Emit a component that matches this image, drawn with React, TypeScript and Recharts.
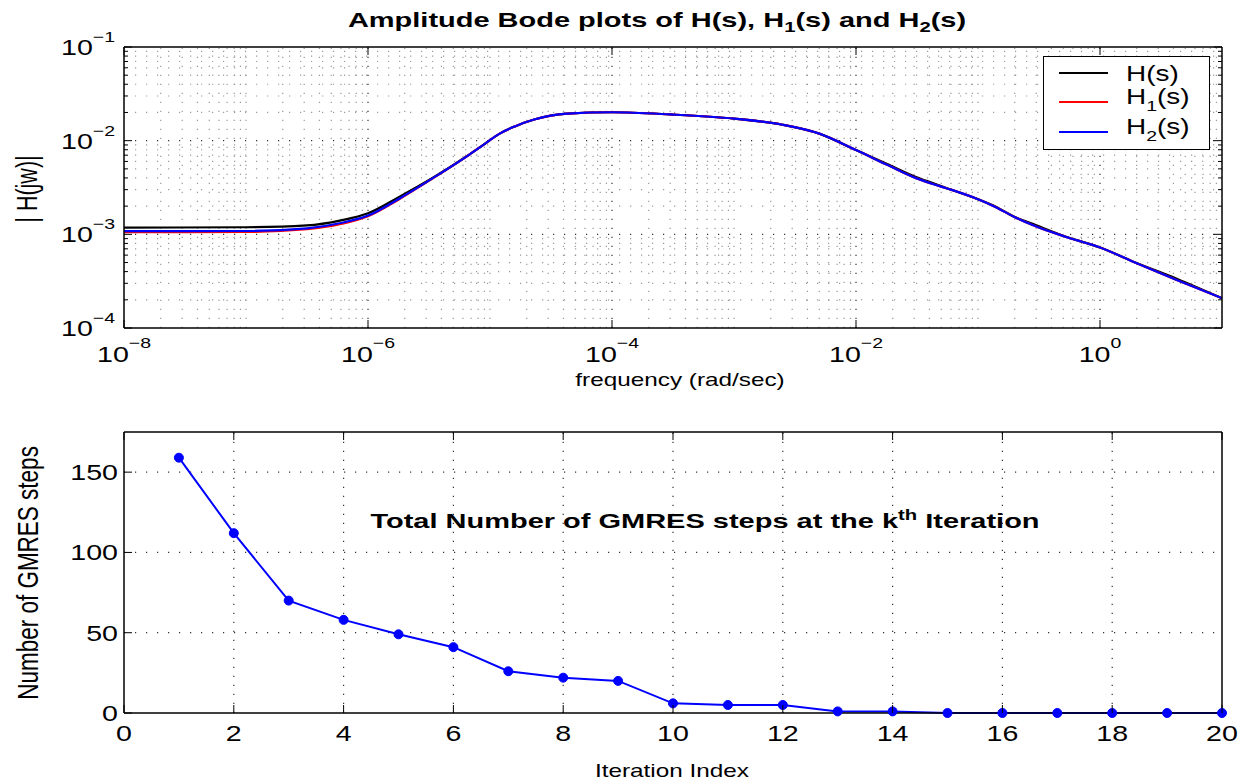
import React from 'react';
import { Legend, Line, LineChart, ReferenceLine, XAxis, YAxis } from 'recharts';

// --- Bode magnitude ---
const freq = [
  1e-8, 1e-7, 3.16e-7, 6e-7, 1e-6, 1.8e-6, 3.4e-6, 6.5e-6, 9e-6, 1.2e-5, 1.6e-5, 2.3e-5, 4.3e-5, 1e-4, 3e-4, 1e-3,
  2.5e-3, 5e-3, 1e-2, 1.8e-2, 3.1e-2, 4.2e-2, 5.5e-2, 1e-1, 1.4e-1, 1.95e-1, 3e-1, 5.2e-1, 1, 2, 4.25, 10,
];
const magH = [
  1.18e-3, 1.19e-3, 1.245e-3, 1.41e-3, 1.68e-3, 2.51e-3, 4.02e-3, 6.86e-3, 9.2e-3, 1.19e-2, 1.42e-2, 1.68e-2, 1.94e-2, 2.01e-2, 1.905e-2, 1.72e-2,
  1.48e-2, 1.19e-2, 7.94e-3, 5.65e-3, 4.1e-3, 3.55e-3, 3.13e-3, 2.37e-3, 1.97e-3, 1.56e-3, 1.25e-3, 9.5e-4, 7.24e-4, 4.95e-4, 3.36e-4, 2.08e-4,
];
const magH1 = [
  1.055e-3, 1.06e-3, 1.135e-3, 1.29e-3, 1.56e-3, 2.37e-3, 3.96e-3, 6.84e-3, 9.2e-3, 1.19e-2, 1.42e-2, 1.68e-2, 1.94e-2, 2.01e-2, 1.905e-2, 1.72e-2,
  1.48e-2, 1.19e-2, 7.94e-3, 5.52e-3, 3.98e-3, 3.47e-3, 3.11e-3, 2.37e-3, 1.95e-3, 1.55e-3, 1.21e-3, 9.44e-4, 7.24e-4, 4.92e-4, 3.26e-4, 2.08e-4,
];
const magH2 = [
  1.08e-3, 1.085e-3, 1.16e-3, 1.32e-3, 1.585e-3, 2.4e-3, 3.98e-3, 6.84e-3, 9.2e-3, 1.19e-2, 1.42e-2, 1.68e-2, 1.94e-2, 2.01e-2, 1.905e-2, 1.72e-2,
  1.48e-2, 1.19e-2, 7.94e-3, 5.52e-3, 3.98e-3, 3.47e-3, 3.11e-3, 2.37e-3, 1.95e-3, 1.55e-3, 1.21e-3, 9.44e-4, 7.24e-4, 4.92e-4, 3.26e-4, 2.08e-4,
];
const freqTicks = [1e-8, 1e-6, 1e-4, 1e-2, 1];
const magDecades = [1e-4, 1e-3, 1e-2, 1e-1];

// --- GMRES steps per iteration ---
const iterations = [1, 2, 3, 4, 5, 6, 7, 8, 9, 10, 11, 12, 13, 14, 15, 16, 17, 18, 19, 20];
const gmresSteps = [159, 112, 70, 58, 49, 41, 26, 22, 20, 6, 5, 5, 1, 1, 0, 0, 0, 0, 0, 0];
const iterTicks = [0, 2, 4, 6, 8, 10, 12, 14, 16, 18, 20];
const stepTicks = [0, 50, 100, 150];

const FONT = '"Liberation Sans", Arial, Helvetica, sans-serif';
const SX = 1.3; // the original figure is stretched horizontally

const bodeData = freq.map((f, i) => ({ f, h: magH[i], h1: magH1[i], h2: magH2[i] }));
const gmresData = iterations.map((k, i) => ({ k, steps: gmresSteps[i] }));

// minor grid positions of the log axes (2..9 x each decade)
const freqMinor: number[] = [];
for (let d = -8; d <= 0; d++) for (let m = 1; m <= 9; m++) {
  const v = m * Math.pow(10, d);
  if (!(m === 1 && d % 2 === 0)) freqMinor.push(v);
}
const magMinor: number[] = [];
for (let d = -4; d <= -2; d++) for (let m = 2; m <= 9; m++) magMinor.push(m * Math.pow(10, d));

const isDecade = (v: number) => Math.abs(Math.log10(v) - Math.round(Math.log10(v))) < 1e-6;
const expText = (v: number) => String(Math.round(Math.log10(v))).replace('-', '\u2212');

const majorDot = { stroke: '#333', strokeWidth: 1.2 };
const minorDot = { stroke: '#999', strokeWidth: 1.2 };

function FreqTick({ x, y, payload }: any) {
  return (
    <g>
      <line x1={x} y1={y} x2={x} y2={y - 8} stroke="#000" />
      <g transform={`translate(${x},${y + 34}) scale(${SX},1)`}>
        <text textAnchor="middle" fontFamily={FONT} fontSize={22} fill="#000">
          10<tspan dy={-14} fontSize={15}>{expText(payload.value)}</tspan>
        </text>
      </g>
    </g>
  );
}

function MagTick({ x, y, payload }: any) {
  const major = isDecade(payload.value);
  return (
    <g>
      <line x1={x} y1={y} x2={x + (major ? 8 : 4)} y2={y} stroke="#000" />
      {major && (
        <g transform={`translate(${x - 9},${y + 8}) scale(${SX},1)`}>
          <text textAnchor="end" fontFamily={FONT} fontSize={22} fill="#000">
            10<tspan dy={-13} fontSize={15}>{expText(payload.value)}</tspan>
          </text>
        </g>
      )}
    </g>
  );
}

function InnerTick({ x, y, payload, side, logMinor }: any) {
  const len = logMinor && !isDecade(payload.value) ? 4 : 8;
  const dx = side === 'right' ? -len : 0;
  const dy = side === 'top' ? len : 0;
  return <line x1={x} y1={y} x2={x + dx} y2={y + dy} stroke="#000" />;
}

function IterTick({ x, y, payload }: any) {
  return (
    <g>
      <line x1={x} y1={y} x2={x} y2={y - 8} stroke="#000" />
      <g transform={`translate(${x},${y + 28}) scale(${SX},1)`}>
        <text textAnchor="middle" fontFamily={FONT} fontSize={22} fill="#000">{payload.value}</text>
      </g>
    </g>
  );
}

function StepTick({ x, y, payload }: any) {
  return (
    <g>
      <line x1={x} y1={y} x2={x + 8} y2={y} stroke="#000" />
      <g transform={`translate(${x - 6},${y + 8}) scale(${SX},1)`}>
        <text textAnchor="end" fontFamily={FONT} fontSize={22} fill="#000">{payload.value}</text>
      </g>
    </g>
  );
}

function BodeLegend({ payload }: any) {
  const rows = [17, 46, 76];
  return (
    <svg width={167} height={94} style={{ display: 'block' }}>
      <rect x={0.5} y={0.5} width={166} height={93} fill="#fff" stroke="#000" />
      {(payload || []).map((p: any, i: number) => {
        const m = /^H(\d?)\(s\)$/.exec(String(p.value));
        const sub = m ? m[1] : '';
        const ly = rows[i];
        return (
          <g key={String(p.dataKey)}>
            <line x1={16} x2={65} y1={ly} y2={ly} stroke={p.color} strokeWidth={2} />
            <g transform={`translate(83,${ly + (sub ? 2 : 8)}) scale(1.3,1)`}>
              <text fontFamily={FONT} fontSize={21.5} fill="#000">
                H
                {sub && <tspan dy={7} fontSize={15}>{sub}</tspan>}
                <tspan dy={sub ? -7 : 0}>(s)</tspan>
              </text>
            </g>
          </g>
        );
      })}
    </svg>
  );
}

function Stretched({ x, y, sx, children, anchor = 'middle', size = 19, bold = false }: any) {
  return (
    <g transform={`translate(${x},${y}) scale(${sx},1)`}>
      <text textAnchor={anchor} fontFamily={FONT} fontSize={size} fontWeight={bold ? 'bold' : 'normal'} fill="#000">
        {children}
      </text>
    </g>
  );
}

export default function App() {
  const axisLine = { stroke: '#000', strokeWidth: 1.5 };
  return (
    <div style={{ position: 'absolute', left: 0, top: 0, width: 1240, height: 781, background: '#fff' }}>
      <div style={{ position: 'absolute', left: 0, top: 0 }}>
        <LineChart width={1240} height={400} data={bodeData} margin={{ top: 46, right: 17, bottom: 71, left: 123 }}>
          {freqMinor.map((v) => (
            <ReferenceLine key={'fx' + v} x={v} xAxisId="b" yAxisId="l" {...minorDot} strokeDasharray="1.2 7.8" />
          ))}
          {magMinor.map((v) => (
            <ReferenceLine key={'my' + v} y={v} xAxisId="b" yAxisId="l" {...minorDot} strokeDasharray="1.2 9.8" />
          ))}
          {freqTicks.slice(1).map((v) => (
            <ReferenceLine key={'Fx' + v} x={v} xAxisId="b" yAxisId="l" {...majorDot} strokeDasharray="1.2 7.8" />
          ))}
          {magDecades.slice(1, 3).map((v) => (
            <ReferenceLine key={'My' + v} y={v} xAxisId="b" yAxisId="l" {...majorDot} strokeDasharray="1.2 9.8" />
          ))}
          <XAxis xAxisId="b" dataKey="f" type="number" scale="log" domain={[1e-8, 10]} allowDataOverflow
            ticks={freqTicks} interval={0} height={1} tickSize={0} tickMargin={0} tickLine={false}
            axisLine={axisLine} tick={<FreqTick />} />
          <XAxis xAxisId="t" orientation="top" dataKey="f" type="number" scale="log" domain={[1e-8, 10]} allowDataOverflow
            ticks={freqTicks} interval={0} height={1} tickSize={0} tickMargin={0} tickLine={false}
            axisLine={axisLine} tick={<InnerTick side="top" />} />
          <YAxis yAxisId="l" type="number" scale="log" domain={[1e-4, 1e-1]} allowDataOverflow
            ticks={[...magDecades, ...magMinor]} interval={0} width={1} tickSize={0} tickMargin={0} tickLine={false}
            axisLine={axisLine} tick={<MagTick />} />
          <YAxis yAxisId="r" orientation="right" type="number" scale="log" domain={[1e-4, 1e-1]} allowDataOverflow
            ticks={[...magDecades, ...magMinor]} interval={0} width={1} tickSize={0} tickMargin={0} tickLine={false}
            axisLine={axisLine} tick={<InnerTick side="right" logMinor />} />
          <Line xAxisId="b" yAxisId="l" dataKey="h" name="H(s)" type="monotone" stroke="#000000" strokeWidth={2.2} dot={false} isAnimationActive={false} />
          <Line xAxisId="b" yAxisId="l" dataKey="h1" name="H1(s)" type="monotone" stroke="#ff0000" strokeWidth={2.2} dot={false} isAnimationActive={false} />
          <Line xAxisId="b" yAxisId="l" dataKey="h2" name="H2(s)" type="monotone" stroke="#0000ff" strokeWidth={2.2} dot={false} isAnimationActive={false} />
          <Legend layout="vertical" align="center" verticalAlign="middle" content={<BodeLegend />}
            wrapperStyle={{ left: 1043, top: 56, width: 167, height: 94 }} />
        </LineChart>
      </div>

      <div style={{ position: 'absolute', left: 0, top: 400 }}>
        <LineChart width={1240} height={381} data={gmresData} margin={{ top: 31, right: 17, bottom: 67, left: 123 }}>
          {iterTicks.slice(1, -1).map((v) => (
            <ReferenceLine key={'ix' + v} x={v} xAxisId="b" yAxisId="l" {...majorDot} strokeDasharray="1.2 7.8" />
          ))}
          {stepTicks.slice(1).map((v) => (
            <ReferenceLine key={'sy' + v} y={v} xAxisId="b" yAxisId="l" {...majorDot} strokeDasharray="1.2 9.8" />
          ))}
          <XAxis xAxisId="b" dataKey="k" type="number" domain={[0, 20]} ticks={iterTicks} interval={0}
            height={1} tickSize={0} tickMargin={0} tickLine={false} axisLine={axisLine} tick={<IterTick />} />
          <XAxis xAxisId="t" orientation="top" dataKey="k" type="number" domain={[0, 20]} ticks={iterTicks} interval={0}
            height={1} tickSize={0} tickMargin={0} tickLine={false} axisLine={axisLine} tick={<InnerTick side="top" />} />
          <YAxis yAxisId="l" type="number" domain={[0, 175]} ticks={stepTicks} interval={0}
            width={1} tickSize={0} tickMargin={0} tickLine={false} axisLine={axisLine} tick={<StepTick />} />
          <YAxis yAxisId="r" orientation="right" type="number" domain={[0, 175]} ticks={stepTicks} interval={0}
            width={1} tickSize={0} tickMargin={0} tickLine={false} axisLine={axisLine} tick={<InnerTick side="right" />} />
          <Line xAxisId="b" yAxisId="l" dataKey="steps" type="linear" stroke="#0000ff" strokeWidth={2}
            dot={{ r: 4.5, fill: '#0000ff', stroke: '#0000ff', strokeWidth: 1 }} isAnimationActive={false} />
        </LineChart>
      </div>

      <svg width={1240} height={781} style={{ position: 'absolute', left: 0, top: 0, pointerEvents: 'none' }}>
        <Stretched x={657} y={27} sx={1.45} size={20} bold>
          Amplitude Bode plots of H(s), H<tspan dy={5} fontSize={14}>1</tspan>
          <tspan dy={-5}>(s) and H</tspan><tspan dy={5} fontSize={14}>2</tspan><tspan dy={-5}>(s)</tspan>
        </Stretched>
        <Stretched x={680} y={386} sx={1.28} size={19}>frequency (rad/sec)</Stretched>
        <Stretched x={672} y={777} sx={1.28} size={19}>Iteration Index</Stretched>
        <Stretched x={705} y={528} sx={1.45} size={20} bold>
          Total Number of GMRES steps at the k<tspan dy={-8} fontSize={14}>th</tspan>
          <tspan dy={8}> Iteration</tspan>
        </Stretched>
        <g transform="translate(37,189) scale(1.35,1) rotate(-90)">
          <text textAnchor="middle" fontFamily={FONT} fontSize={21.5} fill="#000">| H(jw)|</text>
        </g>
        <g transform="translate(38,573) scale(1.35,1) rotate(-90)">
          <text textAnchor="middle" fontFamily={FONT} fontSize={22.5} fill="#000">Number of GMRES steps</text>
        </g>
      </svg>
    </div>
  );
}
